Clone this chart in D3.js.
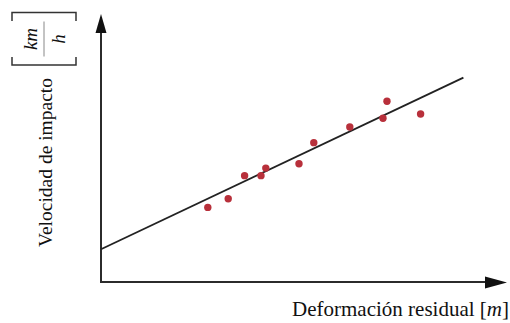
<!DOCTYPE html>
<html>
<head>
<meta charset="utf-8">
<script src="https://cdn.jsdelivr.net/npm/d3@7"></script>
<style>
  body { margin: 0; background: #fff; }
  svg { display: block; }
</style>
</head>
<body>
<svg id="chart"></svg>
<script>
// measured points (arbitrary units, axes have no ticks)
const defX = [26.7, 31.8, 35.9, 40.0, 41.2, 49.5, 53.2, 62.2, 70.5, 71.5, 79.9];
const velY = [28.7, 32.0, 40.9, 40.9, 43.8, 45.5, 53.6, 59.6, 63.0, 69.5, 64.6];
// fitted line end points
const fitX = [0, 90.6];
const fitY = [12.6, 78.6];

const width = 510;
const height = 323;
const margin = ({ top: 22, right: 9, bottom: 41, left: 101 });

const svg = d3.select("#chart")
    .attr("width", width)
    .attr("height", height);

const xScale = d3.scaleLinear()
    .domain([0, 100])
    .range([margin.left, width - margin.right]);

const yScale = d3.scaleLinear()
    .domain([0, 100])
    .range([height - margin.bottom, margin.top]);

const axisColor = "#2b2b2b";
const x0 = xScale(0), y0 = yScale(0);
const xEnd = xScale.range()[1], yEnd = yScale.range()[1];

// axes with arrows
svg.append("line")
    .attr("x1", x0).attr("y1", y0)
    .attr("x2", x0).attr("y2", yEnd + 8)
    .attr("stroke", axisColor).attr("stroke-width", 2);
svg.append("line")
    .attr("x1", x0 - 1).attr("y1", y0)
    .attr("x2", xEnd - 14).attr("y2", y0)
    .attr("stroke", axisColor).attr("stroke-width", 2);

svg.append("path")
    .attr("d", `M${x0},${yEnd - 8} L${x0 - 5.5},${yEnd + 11} L${x0 + 5.5},${yEnd + 11} Z`)
    .attr("fill", "#111");
svg.append("path")
    .attr("d", `M${xEnd + 6},${y0 + 0.5} L${xEnd - 16},${y0 - 5.5} L${xEnd - 16},${y0 + 6.5} Z`)
    .attr("fill", "#111");

// regression line
svg.append("line")
    .attr("x1", xScale(fitX[0])).attr("y1", yScale(fitY[0]))
    .attr("x2", xScale(fitX[1])).attr("y2", yScale(fitY[1]))
    .attr("stroke", "#222").attr("stroke-width", 1.8);

// points
svg.append("g")
    .selectAll("circle")
    .data(defX)
    .enter()
    .append("circle")
    .attr("cx", d => xScale(d))
    .attr("cy", (d, i) => yScale(velY[i]))
    .attr("r", 3.7)
    .attr("fill", "#b8303b");

// x label
const xLab = svg.append("text")
    .attr("x", 509)
    .attr("y", 316)
    .attr("text-anchor", "end")
    .attr("font-family", "'Liberation Serif', 'Times New Roman', serif")
    .attr("font-size", 21)
    .attr("fill", "#111");
xLab.append("tspan").text("Deformación residual [");
xLab.append("tspan").attr("font-style", "italic").text("m");
xLab.append("tspan").text("]");

// y label
svg.append("text")
    .attr("transform", "translate(52,162.5) rotate(-90)")
    .attr("text-anchor", "middle")
    .attr("font-family", "'Liberation Serif', 'Times New Roman', serif")
    .attr("font-size", 19.5)
    .attr("fill", "#111")
    .text("Velocidad de impacto");

// unit [km / h]
const unit = svg.append("g")
    .attr("transform", "translate(44,39) rotate(-90)")
    .attr("stroke", "#333")
    .attr("fill", "none");
unit.append("path")
    .attr("d", "M-18,-32 L-26,-32 L-26,32 L-18,32")
    .attr("stroke-width", 1.5);
unit.append("path")
    .attr("d", "M18,-32 L26.5,-32 L26.5,32 L18,32")
    .attr("stroke-width", 1.5);
unit.append("line")
    .attr("x1", -17.5).attr("x2", 17.5)
    .attr("y1", 0).attr("y2", 0)
    .attr("stroke", "#888").attr("stroke-width", 1);
unit.append("text")
    .attr("x", 0).attr("y", -7)
    .attr("text-anchor", "middle")
    .attr("stroke", "none").attr("fill", "#111")
    .attr("font-family", "'Liberation Serif', 'Times New Roman', serif")
    .attr("font-style", "italic")
    .attr("font-size", 19)
    .text("km");
unit.append("text")
    .attr("x", 0).attr("y", 21)
    .attr("text-anchor", "middle")
    .attr("stroke", "none").attr("fill", "#111")
    .attr("font-family", "'Liberation Serif', 'Times New Roman', serif")
    .attr("font-style", "italic")
    .attr("font-size", 19)
    .text("h");
</script>
</body>
</html>
